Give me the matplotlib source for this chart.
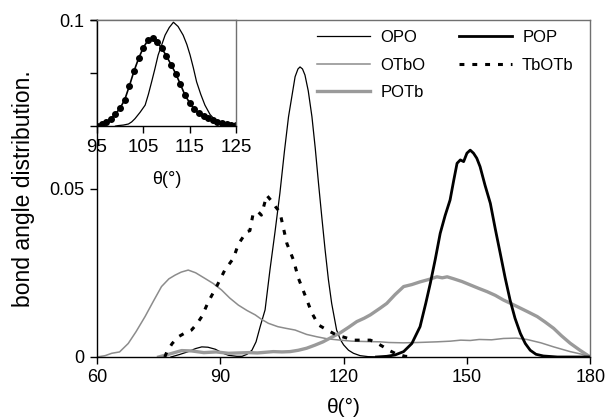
import matplotlib

matplotlib.use("Agg")
from matplotlib import pyplot as plt
from matplotlib.ticker import FixedLocator, FuncFormatter

plt.rcParams["font.family"] = ["Liberation Sans", "DejaVu Sans"]

# main panel: bond angle distributions
opo_theta = [78, 80, 82, 84, 85.5, 87, 88.8, 90.5, 92, 94, 95.3, 96.5, 97.7, 98.7,
             99.7, 100.9, 102.1, 103.3, 104.5, 105.6, 106.6, 107.5, 108.2, 108.9,
             109.4, 110, 110.6, 111.4, 112.3, 113.1, 113.9, 114.7, 115.5, 116.3,
             117.1, 118.3, 119.2, 120, 121.2, 122.4, 124, 126, 130]
opo_vals = [0, 0.0007, 0.0015, 0.0025, 0.003, 0.0029, 0.0023, 0.0012, 0.0005, 0.0002,
            0.0002, 0.0008, 0.002, 0.0045, 0.009, 0.014, 0.026, 0.037, 0.0486, 0.061,
            0.0713, 0.078, 0.0832, 0.0855, 0.0861, 0.0855, 0.0837, 0.079, 0.0713,
            0.062, 0.0515, 0.0415, 0.0318, 0.023, 0.0159, 0.008, 0.0052, 0.0036,
            0.002, 0.0011, 0.0004, 0.0001, 0]

otbo_theta = [60, 62, 63.6, 65.5, 67.6, 69.5, 71.7, 73.7, 75.7, 77.5, 79, 80.5, 82.2,
              84, 86.3, 88.3, 90.3, 92.3, 94.4, 96.5, 98.5, 100, 101.7, 104, 106,
              108.2, 111, 113.5, 116, 119.2, 122, 125, 128.9, 131, 134.6, 138, 142.7,
              146, 148.5, 150.8, 153, 156, 158.9, 162, 164.6, 168, 171.1, 175.1, 178,
              180]
otbo_vals = [0, 0.0004, 0.0011, 0.0015, 0.004, 0.0075, 0.012, 0.0165, 0.0209, 0.0232,
             0.0243, 0.0252, 0.0258, 0.025, 0.0233, 0.0218, 0.0199, 0.0175, 0.0154,
             0.0138, 0.0125, 0.0112, 0.010, 0.009, 0.0085, 0.008, 0.0067, 0.006,
             0.0054, 0.005, 0.0047, 0.0046, 0.0045, 0.0043, 0.0042, 0.0043, 0.0045,
             0.0047, 0.005, 0.0049, 0.0052, 0.0051, 0.0055, 0.0056, 0.0052, 0.0042,
             0.003, 0.0016, 0.0008, 0]

potb_theta = [75, 76.5, 78, 80.6, 83, 86, 89, 92, 94.4, 97, 99, 101, 102.9, 105, 107,
              109, 111, 113, 115, 117, 119.2, 121.2, 123.2, 125, 126.5, 128.9, 130.5,
              132.5, 134.6, 136.6, 138.6, 140.7, 142.7, 144, 145.2, 146.8, 148.8,
              150.8, 152.8, 154.9, 156.9, 158.9, 161, 163, 165, 167.1, 169, 171.1,
              173, 175.1, 177.5, 180]
potb_vals = [0, 0.0005, 0.001, 0.0019, 0.0018, 0.0013, 0.0015, 0.0011, 0.0012, 0.0013,
             0.0012, 0.0014, 0.0016, 0.0015, 0.0016, 0.002, 0.0026, 0.0035, 0.0045,
             0.0058, 0.0072, 0.0088, 0.0105, 0.0115, 0.0125, 0.0145, 0.0159, 0.0185,
             0.0209, 0.0215, 0.0223, 0.023, 0.0238, 0.0235, 0.0238, 0.0232, 0.0224,
             0.0214, 0.0204, 0.0194, 0.0183, 0.0169, 0.0157, 0.0145, 0.0133, 0.012,
             0.0104, 0.0085, 0.0063, 0.0041, 0.002, 0]

pop_theta = [128, 130.5, 132.5, 134.6, 136.6, 138.6, 140, 141.1, 142.3, 143.5, 144.7,
             145.9, 146.8, 147.6, 148.4, 149.2, 150, 150.8, 151.6, 152.4, 153.2, 154.4,
             155.7, 156.9, 158.1, 159.3, 160.5, 161.7, 163, 164.2, 165.4, 166.8, 168.6,
             172, 180]
pop_vals = [0, 0.0002, 0.0006, 0.0016, 0.004, 0.009, 0.016, 0.0219, 0.029, 0.0367,
            0.042, 0.0466, 0.0525, 0.0575, 0.0585, 0.058, 0.0605, 0.0614, 0.0605,
            0.059, 0.0565, 0.051, 0.0456, 0.038, 0.0308, 0.0235, 0.0169, 0.0115,
            0.007, 0.004, 0.002, 0.0008, 0.0003, 0, 0]

tbotb_theta = [76.5, 77, 78.3, 79.8, 81.5, 83, 84.3, 85.5, 87.1, 89.1, 91.1, 93.2, 94.4,
               96.4, 97.2, 98, 99.2, 100, 101.3, 102.6, 103.5, 104.5, 106.2, 107.8,
               109, 110.6, 112.3, 113.9, 116, 118.3, 120.3, 122.4, 124.5, 126.5, 128,
               129.7, 131, 133, 135, 137]
tbotb_vals = [0, 0.0015, 0.004, 0.006, 0.0072, 0.008, 0.0098, 0.012, 0.0164, 0.0209,
              0.0258, 0.0293, 0.0335, 0.0372, 0.0375, 0.0426, 0.0431, 0.0421, 0.048,
              0.0461, 0.0445, 0.043, 0.0337, 0.0288, 0.0234, 0.0184, 0.013, 0.0095,
              0.008, 0.0065, 0.0058, 0.005, 0.005, 0.005, 0.0042, 0.003, 0.002,
              0.0008, 0.0002, 0]

# inset
inset_line_theta = [99, 99.6, 100.7, 101.8, 102.5, 103.2, 104.3, 105.4, 106.1, 106.8,
                    107.5, 108.2, 109, 109.7, 110.6, 111.5, 112.5, 113.6, 114.4, 115.1,
                    115.8, 116.5, 117.4, 118.3, 119.4, 120.5, 121.5, 122.6, 124, 125]
inset_line_vals = [0, 0.0005, 0.001, 0.002, 0.004, 0.007, 0.013, 0.0198, 0.03, 0.0418,
                   0.054, 0.067, 0.077, 0.0858, 0.093, 0.098, 0.094, 0.0858, 0.077,
                   0.067, 0.055, 0.0418, 0.03, 0.0198, 0.011, 0.0057, 0.0035, 0.002,
                   0.0008, 0]

inset_dot_theta = [95, 96, 97, 98, 99, 100, 101, 102, 103, 104, 105, 106, 107, 108, 109,
                   110, 111, 112, 113, 114, 115, 116, 117, 118, 119, 120, 121, 122, 123,
                   124, 125]
inset_dot_vals = [0.0005, 0.002, 0.004, 0.007, 0.0115, 0.017, 0.025, 0.038, 0.052,
                  0.064, 0.074, 0.081, 0.0828, 0.079, 0.0735, 0.066, 0.058, 0.0495,
                  0.0395, 0.0292, 0.022, 0.016, 0.0122, 0.0093, 0.0072, 0.0055, 0.0042,
                  0.0033, 0.0024, 0.0015, 0.0008]

main_xticks = [60, 90, 120, 150, 180]
main_yticks = [0, 0.05, 0.1]
inset_xticks = [95, 105, 115, 125]

GRAY_THIN = "#8c8c8c"
GRAY_THICK = "#9a9a9a"
FRAME_GRAY = "#707070"


def _style_frame(ax):
    ax.spines["left"].set_color("black")
    ax.spines["bottom"].set_color("black")
    ax.spines["top"].set_color(FRAME_GRAY)
    ax.spines["right"].set_color(FRAME_GRAY)
    for side in ax.spines.values():
        side.set_linewidth(1.0)
    ax.tick_params(direction="out", length=5, width=1, top=False, right=False)


fig = plt.figure(figsize=(6.06, 4.19), dpi=100)
ax = fig.add_axes([0.160, 0.148, 0.814, 0.804])

ax.plot(opo_theta, opo_vals, color="black", lw=0.9, label="OPO")
ax.plot(otbo_theta, otbo_vals, color=GRAY_THIN, lw=1.1, label="OTbO")
ax.plot(potb_theta, potb_vals, color=GRAY_THICK, lw=2.4, label="POTb")
ax.plot(pop_theta, pop_vals, color="black", lw=2.0, label="POP")
ax.plot(tbotb_theta, tbotb_vals, color="black", lw=2.2,
        linestyle=(0, (1.6, 2.6)), label="TbOTb")

ax.set_xlim(60, 180)
ax.set_ylim(0, 0.1)
ax.xaxis.set_major_locator(FixedLocator(main_xticks))
ax.yaxis.set_major_locator(FixedLocator(main_yticks))
ax.yaxis.set_major_formatter(FuncFormatter(lambda v, _: "0" if v == 0 else f"{v:g}"))
_style_frame(ax)
ax.tick_params(labelsize=13, pad=4)
ax.set_xlabel("θ(°)", fontsize=15, labelpad=8)
ax.set_ylabel("bond angle distribution.", fontsize=16.5, labelpad=10)

ax.legend(
    ncol=2,
    frameon=False,
    fontsize=12,
    loc="upper left",
    bbox_to_anchor=(317 / 606, 1 - 30 / 419),
    bbox_transform=fig.transFigure,
    borderpad=0,
    borderaxespad=0,
    handlelength=3.2,
    handletextpad=0.6,
    columnspacing=2.0,
    labelspacing=0.75,
)

inset = fig.add_axes([0.160, 0.699, 0.2294, 0.253])
inset.plot(inset_line_theta, inset_line_vals, color="black", lw=0.9)
inset.plot(inset_dot_theta, inset_dot_vals, color="black", lw=1.2,
           marker="o", markersize=4)
inset.set_xlim(95, 125)
inset.set_ylim(0, 0.1)
inset.xaxis.set_major_locator(FixedLocator(inset_xticks))
inset.yaxis.set_major_locator(FixedLocator(main_yticks))
inset.set_yticklabels([])
_style_frame(inset)
inset.tick_params(axis="x", labelsize=13.5, pad=4)
inset.set_xlabel("θ(°)", fontsize=13, labelpad=11)

fig.savefig("out.png", dpi=100)
plt.close(fig)
